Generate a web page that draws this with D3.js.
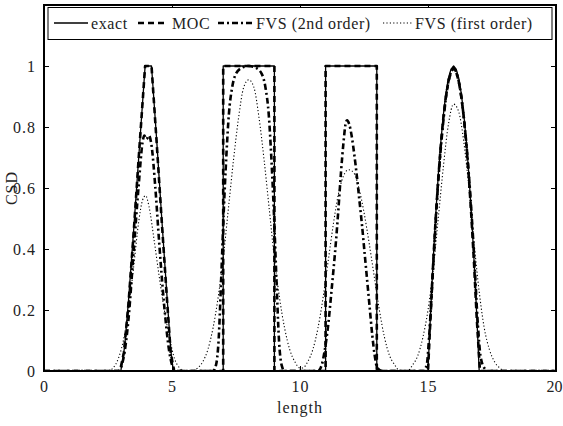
<!DOCTYPE html>
<html>
<head>
<meta charset="utf-8">
<script src="https://cdn.jsdelivr.net/npm/d3@7"></script>
<style>
  body { margin: 0; background: #fff; }
  svg { display: block; font-family: "Liberation Serif", "Times New Roman", serif; }
</style>
</head>
<body>
<svg id="chart" width="563" height="426"></svg>
<script>
// values: [length, CSD]
const exact = [
  [0, 0], [3.0, 0], [3.15, 0.08], [3.3, 0.23], [3.5, 0.46], [3.7, 0.7], [3.95, 1], [4.2, 1],
  [4.4, 0.76], [4.6, 0.5], [4.8, 0.25], [4.95, 0.07], [5.05, 0],
  [7, 0], [7, 1], [9, 1], [9, 0],
  [11, 0], [11, 1], [13, 1], [13, 0],
  [15, 0], [15.1, 0.19], [15.2, 0.36], [15.3, 0.51], [15.4, 0.64], [15.5, 0.75], [15.6, 0.84],
  [15.7, 0.91], [15.8, 0.96], [15.9, 0.99], [16, 1], [16.1, 0.99], [16.2, 0.96], [16.3, 0.91],
  [16.4, 0.84], [16.5, 0.75], [16.6, 0.64], [16.7, 0.51], [16.8, 0.36], [16.9, 0.19], [17, 0],
  [20, 0]
];

const moc = [
  [0, 0], [2.97, 0], [3.12, 0.06], [3.3, 0.22], [3.5, 0.45], [3.7, 0.7], [3.95, 1], [4.2, 1],
  [4.4, 0.75], [4.6, 0.49], [4.8, 0.24], [4.95, 0.06], [5.08, 0],
  [7, 0], [7, 1], [9, 1], [9, 0],
  [11, 0], [11, 1], [13, 1], [13, 0],
  [15, 0], [15.1, 0.18], [15.2, 0.35], [15.3, 0.5], [15.4, 0.63], [15.5, 0.74], [15.6, 0.83],
  [15.7, 0.9], [15.8, 0.95], [15.9, 0.98], [16, 0.995], [16.1, 0.98], [16.2, 0.95], [16.3, 0.9],
  [16.4, 0.83], [16.5, 0.74], [16.6, 0.63], [16.7, 0.5], [16.8, 0.35], [16.9, 0.18], [17.03, 0],
  [20, 0]
];

const fvs2 = [
  [0, 0], [2.9, 0], [3.1, 0.04], [3.3, 0.17], [3.5, 0.39], [3.7, 0.61], [3.85, 0.75], [3.92, 0.772],
  [4.0, 0.76], [4.1, 0.772], [4.2, 0.74], [4.35, 0.6], [4.5, 0.42], [4.7, 0.21], [4.9, 0.06],
  [5.05, 0.01], [5.2, 0],
  [6.6, 0], [6.72, 0.02], [6.82, 0.1], [6.92, 0.3], [7.02, 0.52], [7.12, 0.7], [7.22, 0.84],
  [7.35, 0.93], [7.5, 0.975], [7.75, 0.995], [8.0, 1.0], [8.25, 0.995], [8.5, 0.975], [8.65, 0.93],
  [8.78, 0.84], [8.88, 0.7], [8.98, 0.52], [9.08, 0.3], [9.18, 0.1], [9.28, 0.02], [9.4, 0],
  [10.7, 0], [10.85, 0.02], [10.95, 0.06], [11.1, 0.15], [11.25, 0.28], [11.4, 0.42], [11.5, 0.53],
  [11.6, 0.65], [11.7, 0.75], [11.78, 0.81], [11.84, 0.822], [11.92, 0.81], [12.02, 0.77],
  [12.12, 0.71], [12.22, 0.64], [12.32, 0.56], [12.42, 0.48], [12.52, 0.39], [12.62, 0.3],
  [12.72, 0.21], [12.82, 0.12], [12.92, 0.05], [13.02, 0.01], [13.2, 0],
  [14.8, 0], [14.95, 0.02], [15.05, 0.12], [15.2, 0.34], [15.4, 0.62], [15.6, 0.82], [15.8, 0.95],
  [16.0, 0.99], [16.2, 0.95], [16.4, 0.83], [16.6, 0.64], [16.8, 0.38], [16.95, 0.15],
  [17.05, 0.05], [17.2, 0.01], [17.35, 0], [20, 0]
];

const fvs1 = [
  [0, 0], [2.5, 0], [2.7, 0.01], [2.9, 0.04], [3.1, 0.1], [3.3, 0.2], [3.5, 0.34], [3.7, 0.49],
  [3.85, 0.56], [3.97, 0.575], [4.1, 0.54], [4.3, 0.43], [4.5, 0.31], [4.7, 0.2], [4.9, 0.11],
  [5.1, 0.04], [5.3, 0.01], [5.5, 0],
  [5.8, 0], [6.0, 0.01], [6.2, 0.03], [6.4, 0.07], [6.6, 0.14], [6.8, 0.24], [7.0, 0.37],
  [7.2, 0.53], [7.4, 0.69], [7.6, 0.83], [7.8, 0.93], [8.0, 0.955], [8.2, 0.93], [8.4, 0.83],
  [8.6, 0.69], [8.8, 0.53], [9.0, 0.37], [9.2, 0.24], [9.4, 0.14], [9.6, 0.07], [9.8, 0.03],
  [10.0, 0.01], [10.1, 0.01], [10.3, 0.03], [10.5, 0.07], [10.7, 0.14], [10.9, 0.24], [11.1, 0.36],
  [11.3, 0.48], [11.5, 0.58], [11.7, 0.64], [11.9, 0.66], [12.1, 0.65], [12.3, 0.6], [12.5, 0.52],
  [12.7, 0.42], [12.9, 0.31], [13.1, 0.2], [13.3, 0.11], [13.5, 0.05], [13.7, 0.02], [13.9, 0],
  [14.2, 0], [14.4, 0.02], [14.6, 0.05], [14.8, 0.11], [15.0, 0.2], [15.2, 0.33], [15.4, 0.5],
  [15.6, 0.67], [15.8, 0.81], [16.0, 0.875], [16.2, 0.85], [16.4, 0.75], [16.6, 0.6], [16.8, 0.42],
  [17.0, 0.26], [17.2, 0.14], [17.4, 0.07], [17.6, 0.03], [17.8, 0.01], [18.0, 0], [20, 0]
];

const xTicks = [0, 5, 10, 15, 20];
const yTicks = [0, 0.2, 0.4, 0.6, 0.8, 1];
const legendLabels = ["exact", "MOC", "FVS (2nd order)", "FVS (first order)"];

const margin = { left: 44, top: 5, right: 7, bottom: 55 };
const W = 563, H = 426;
const w = W - margin.left - margin.right;
const h = H - margin.top - margin.bottom;

const svg = d3.select("#chart");
const g = svg.append("g").attr("transform", `translate(${margin.left},${margin.top})`);

const x = d3.scaleLinear().domain([0, 20]).range([0, w]);
const y = d3.scaleLinear().domain([0, 1.2]).range([h, 0]);

svg.append("defs").append("clipPath").attr("id", "clip")
  .append("rect").attr("width", w).attr("height", h);

// axes with inward ticks on all four sides
const fmt = d => d3.format("")(d);
const xAxisG = g.append("g").attr("transform", `translate(0,${h})`)
  .call(d3.axisBottom(x).tickValues(xTicks).tickSize(-5).tickPadding(10).tickFormat(fmt));
g.append("g")
  .call(d3.axisLeft(y).tickValues(yTicks).tickSize(-5).tickPadding(8).tickFormat(fmt));
g.append("g")
  .call(d3.axisTop(x).tickValues(xTicks).tickSize(-5).tickFormat(""));
g.append("g").attr("transform", `translate(${w},0)`)
  .call(d3.axisRight(y).tickValues(yTicks).tickSize(-5).tickFormat(""));

g.selectAll(".domain").remove();
g.selectAll(".tick line").attr("stroke", "#000").attr("stroke-width", 1);
g.selectAll(".tick text").attr("font-size", 16).attr("fill", "#222")
  .attr("letter-spacing", 1).attr("font-family", "'Liberation Serif', serif");
// keep the last x label inside the page
xAxisG.selectAll(".tick text").filter(d => d === 20)
  .attr("text-anchor", "end").attr("letter-spacing", 0).attr("x", 6);

const series = [
  { data: fvs1, width: 1.1, dash: "1.2,2.2", curve: d3.curveMonotoneX },
  { data: fvs2, width: 2.6, dash: "6,3,2,3", curve: d3.curveMonotoneX },
  { data: exact, width: 1.3, dash: null, curve: d3.curveLinear },
  { data: moc, width: 2.6, dash: "6,4", curve: d3.curveLinear }
];

const plot = g.append("g").attr("clip-path", "url(#clip)");
series.forEach(s => {
  const line = d3.line().x(d => x(d[0])).y(d => y(d[1])).curve(s.curve);
  plot.append("path")
    .datum(s.data)
    .attr("d", line)
    .attr("fill", "none")
    .attr("stroke", "#000")
    .attr("stroke-width", s.width)
    .attr("stroke-dasharray", s.dash)
    .attr("stroke-linejoin", "round");
});

// frame
g.append("rect").attr("width", w).attr("height", h)
  .attr("fill", "none").attr("stroke", "#000").attr("stroke-width", 2);

// axis titles
svg.append("text").attr("x", margin.left + w / 2).attr("y", 413)
  .attr("text-anchor", "middle").attr("font-size", 16).attr("letter-spacing", 1)
  .attr("fill", "#222").text("length");
svg.append("text").attr("transform", `translate(17,${margin.top + y(0.6)}) rotate(-90)`)
  .attr("text-anchor", "middle").attr("font-size", 16).attr("letter-spacing", 1)
  .attr("fill", "#222").text("CSD");

// legend
const lg = svg.append("g");
lg.append("rect").attr("x", 48).attr("y", 7.5).attr("width", 504).attr("height", 32)
  .attr("fill", "#fff").attr("stroke", "#000").attr("stroke-width", 1);
const items = [
  { x1: 54, x2: 88, tx: 91, width: 1.3, dash: null },
  { x1: 138, x2: 167, tx: 172, width: 2.6, dash: "6,4" },
  { x1: 218, x2: 253, tx: 256, width: 2.6, dash: "6,3,2,3" },
  { x1: 383, x2: 412, tx: 415, width: 1.1, dash: "1.2,2.2" }
];
items.forEach((it, i) => {
  lg.append("line").attr("x1", it.x1).attr("x2", it.x2).attr("y1", 23).attr("y2", 23)
    .attr("stroke", "#000").attr("stroke-width", it.width).attr("stroke-dasharray", it.dash);
  lg.append("text").attr("x", it.tx).attr("y", 29).attr("font-size", 16).attr("letter-spacing", 0.6)
    .attr("fill", "#222").text(legendLabels[i]);
});
</script>
</body>
</html>
